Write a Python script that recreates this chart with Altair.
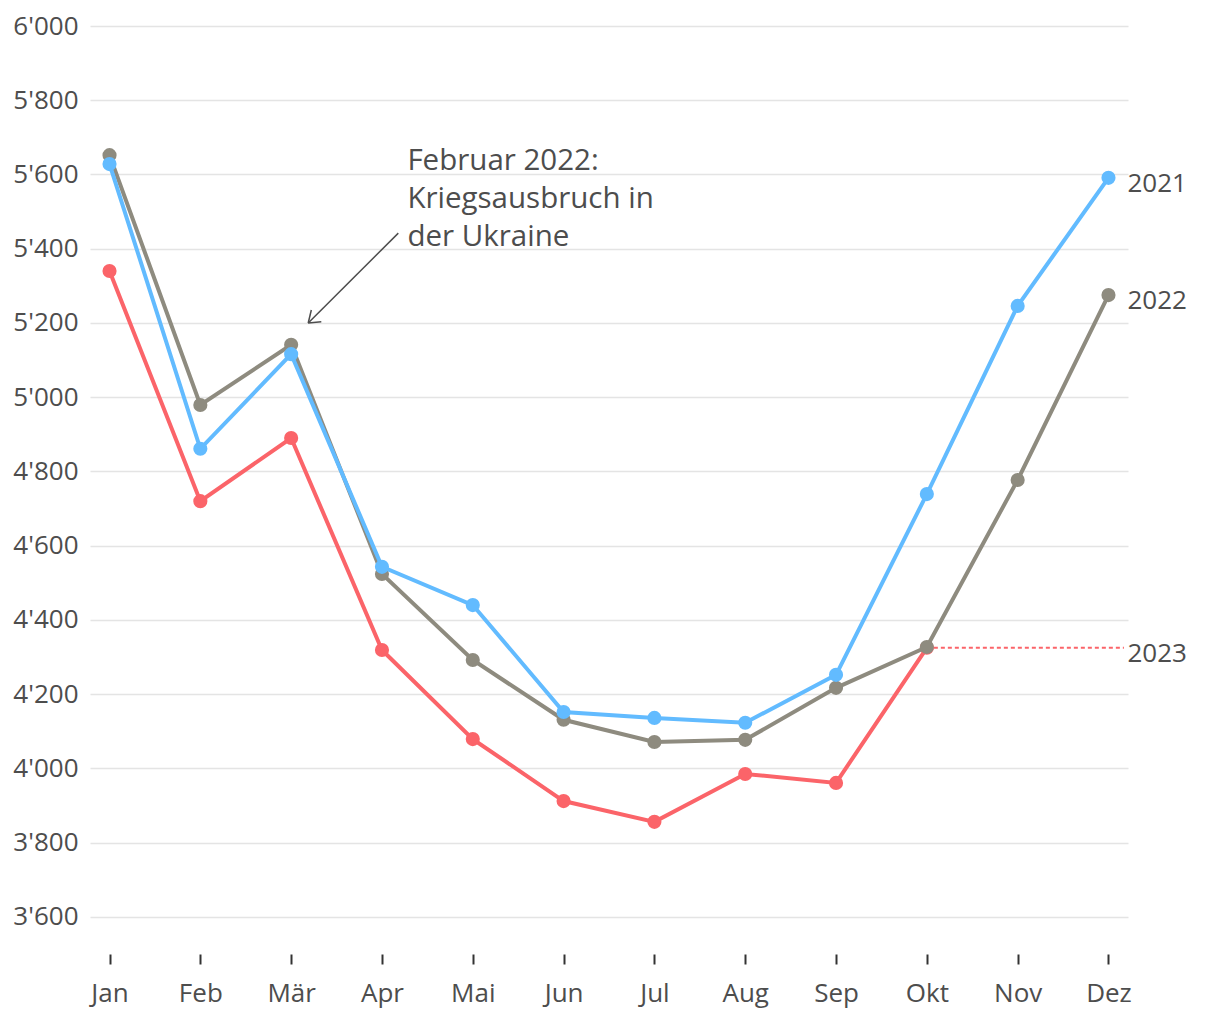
import altair as alt
import pandas as pd

months = ["Jan", "Feb", "Mär", "Apr", "Mai", "Jun", "Jul", "Aug", "Sep", "Okt", "Nov", "Dez"]
month_idx = list(range(1, 13))
v2021 = [5628, 4861, 5116, 4543, 4440, 4152, 4136, 4123, 4252, 4739, 5246, 5591]
v2022 = [5652, 4979, 5141, 4524, 4292, 4131, 4071, 4077, 4217, 4327, 4777, 5275]
v2023 = [5340, 4720, 4890, 4319, 4079, 3912, 3856, 3985, 3961, 4325]
series_names = ["2023", "2022", "2021"]          # draw order
series_vals = [v2023, v2022, v2021]
series_colors = ["#fb6469", "#8e8b7f", "#62bbff"]
y_ticks = list(range(3600, 6001, 200))

# annotation (data coordinates)
note_lines = ["Februar 2022:", "Kriegsausbruch in", "der Ukraine"]
note_x = [4.28]
note_y = [5636]
arrow_x = [4.18, 3.188, 3.188]
arrow_y = [5442, 5200, 5200]
arrow_x2 = [3.188, 3.332, 3.222]
arrow_y2 = [5200, 5203, 5235]
ref_x = [10]
ref_x2 = [12.17]
ref_y = [4325]

FONT = "Open Sans"
TXT = "#4d4d4d"
XMIN, XMAX = 0.785, 12.215

month_expr = "[" + ",".join("'%s'" % m for m in months) + "][datum.value - 1]"

xscale = alt.Scale(domain=[XMIN, XMAX], nice=False, zero=False)
yscale = alt.Scale(domain=[3500, 6000], nice=False, zero=False)

x_axis = alt.Axis(values=month_idx, labelExpr=month_expr, title=None, grid=False,
                  domain=False, ticks=True, tickSize=10, tickWidth=2, tickColor="#333333",
                  labelPadding=16, labelFontSize=26, labelColor=TXT, labelFont=FONT)
y_axis = alt.Axis(values=y_ticks, labelExpr="replace(format(datum.value, ','), ',', \"'\")",
                  title=None, grid=True, gridColor="#e4e4e4", gridWidth=1.5,
                  domain=False, ticks=False, labelPadding=12, labelFontSize=26,
                  labelColor=TXT, labelFont=FONT)

layers = []

axis_df = pd.DataFrame({"x": month_idx, "y": v2021})
base = alt.Chart(axis_df).mark_point(opacity=0).encode(
    x=alt.X("x:Q", scale=xscale, axis=x_axis),
    y=alt.Y("y:Q", scale=yscale, axis=y_axis),
)
layers.append(base)

ref_df = pd.DataFrame({"x": ref_x, "x2": ref_x2, "y": ref_y})
layers.append(alt.Chart(ref_df).mark_rule(color="#fb6469", strokeWidth=2, strokeDash=[4, 3]).encode(
    x=alt.X("x:Q", scale=xscale), x2="x2:Q", y=alt.Y("y:Q", scale=yscale)))

for name, vals, col in zip(series_names, series_vals, series_colors):
    df = pd.DataFrame({"x": month_idx[:len(vals)], "y": vals})
    layers.append(alt.Chart(df).mark_line(color=col, strokeWidth=4).encode(
        x=alt.X("x:Q", scale=xscale), y=alt.Y("y:Q", scale=yscale)))
    layers.append(alt.Chart(df).mark_point(color=col, filled=True, opacity=1, size=200).encode(
        x=alt.X("x:Q", scale=xscale), y=alt.Y("y:Q", scale=yscale)))

lab_df = pd.DataFrame({"x": [12, 12, 12], "y": [v2021[-1], v2022[-1], v2023[-1]],
                       "t": ["2021", "2022", "2023"]})
layers.append(alt.Chart(lab_df).mark_text(align="left", baseline="middle", dx=19, dy=6,
                                          fontSize=26, font=FONT, color=TXT).encode(
    x=alt.X("x:Q", scale=xscale), y=alt.Y("y:Q", scale=yscale), text="t:N"))

arr_df = pd.DataFrame({"x": arrow_x, "y": arrow_y, "x2": arrow_x2, "y2": arrow_y2})
layers.append(alt.Chart(arr_df).mark_rule(color="#4d4d4d", strokeWidth=1.5).encode(
    x=alt.X("x:Q", scale=xscale), y=alt.Y("y:Q", scale=yscale), x2="x2:Q", y2="y2:Q"))

note_df = pd.DataFrame({"x": note_x, "y": note_y, "t": ["\n".join(note_lines)]})
layers.append(alt.Chart(note_df).mark_text(align="left", baseline="middle", lineBreak="\n",
                                           lineHeight=38, fontSize=29.5, font=FONT, color=TXT).encode(
    x=alt.X("x:Q", scale=xscale), y=alt.Y("y:Q", scale=yscale), text="t:N"))

chart = alt.layer(*layers).properties(
    width=1038, height=928,
    padding={"left": 4, "top": 5, "right": 5, "bottom": 5},
).configure(background="white").configure_view(strokeWidth=0, stroke=None)

chart.save("out.html", embed_options={"renderer": "svg", "actions": False})
